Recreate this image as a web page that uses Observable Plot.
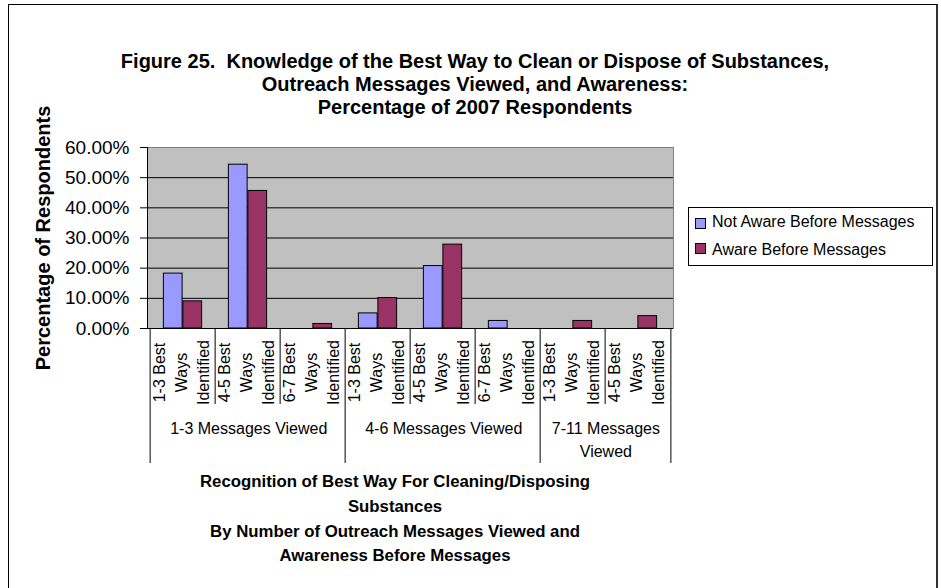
<!DOCTYPE html>
<html>
<head>
<meta charset="utf-8">
<script src="https://cdn.jsdelivr.net/npm/d3@7"></script>
<script src="https://cdn.jsdelivr.net/npm/@observablehq/plot@0.6"></script>
<style>
  html, body { margin: 0; padding: 0; background: #fff; }
  body { width: 941px; height: 588px; overflow: hidden; position: relative;
         font-family: "Liberation Sans", Arial, sans-serif; color: #000; }
  #frame { position: absolute; left: 8px; top: 4px; width: 930px; height: 640px;
           border: 1px solid #000; border-right: 2px solid #333; box-sizing: border-box; }
  #title { position: absolute; left: 0; top: 50px; width: 950px; text-align: center;
           font-weight: bold; font-size: 20px; line-height: 23px; }
  #chart { position: absolute; left: 0; top: 100px; }
  #legend { position: absolute; left: 688px; top: 207px; width: 245px; height: 59px;
            border: 1px solid #000; box-sizing: border-box; background: #fff; font-size: 16px; }
  #legend .sw { position: absolute; left: 6px; width: 11px; height: 11px;
                border: 1px solid #000; box-sizing: border-box; }
  #legend .lbl { position: absolute; left: 23px; line-height: 16px; white-space: nowrap; }
  #xtitle { position: absolute; left: 195px; width: 400px; top: 470px; text-align: center;
            font-weight: bold; font-size: 16.8px; line-height: 24.8px; }
</style>
</head>
<body>
<div id="frame"></div>
<div id="title"></div>
<div id="chart"></div>
<div id="legend"></div>
<div id="xtitle"></div>
<script>
// ---- data ----
const titleLines = [
  "Figure 25.  Knowledge of the Best Way to Clean or Dispose of Substances,",
  "Outreach Messages Viewed, and Awareness:",
  "Percentage of 2007 Respondents"
];
const groups = ["1-3 Messages Viewed", "4-6 Messages Viewed", "7-11 Messages Viewed"];
const bestWays = [
  "1-3 Best Ways Identified", "4-5 Best Ways Identified", "6-7 Best Ways Identified",
  "1-3 Best Ways Identified", "4-5 Best Ways Identified", "6-7 Best Ways Identified",
  "1-3 Best Ways Identified", "4-5 Best Ways Identified"
];
const categoryGroup = [0, 0, 0, 1, 1, 1, 2, 2];
const series = ["Not Aware Before Messages", "Aware Before Messages"];
const seriesColors = ["#9999ff", "#993366"];
const notAware = [18.2, 54.3, 0, 5.0, 20.7, 2.5, 0, 0];
const aware = [9.0, 45.6, 1.5, 10.1, 27.8, 0, 2.5, 4.1];
const yTicks = [0, 10, 20, 30, 40, 50, 60];
const yTitle = "Percentage of Respondents";
const xTitleLines = [
  "Recognition of Best Way For Cleaning/Disposing",
  "Substances",
  "By Number of Outreach Messages Viewed and",
  "Awareness Before Messages"
];

// ---- build ----
document.getElementById("title").innerHTML = titleLines.map(t => `<div>${t.replace(/  /g, " &nbsp;")}</div>`).join("");
document.getElementById("xtitle").innerHTML = xTitleLines.map(t => `<div>${t}</div>`).join("");

const legend = document.getElementById("legend");
const legendTops = [5.8, 33.5];
const swatchTops = [10, 35];
series.forEach((s, k) => {
  const sw = document.createElement("div");
  sw.className = "sw"; sw.style.top = swatchTops[k] + "px"; sw.style.background = seriesColors[k];
  legend.appendChild(sw);
  const lb = document.createElement("div");
  lb.className = "lbl"; lb.style.top = legendTops[k] + "px"; lb.textContent = s;
  legend.appendChild(lb);
});

const rows = bestWays.map((label, i) => ({i, label, group: categoryGroup[i], notAware: notAware[i], aware: aware[i]}));
const groupInfo = groups.map((g, gi) => {
  const members = rows.filter(r => r.group === gi);
  return {label: g, first: members[0].i, n: members.length};
});
const groupStarts = rows.filter((r, i) => i === 0 || r.group !== rows[i - 1].group);
const innerStarts = rows.filter(r => !groupStarts.includes(r));
const lastRow = [rows[rows.length - 1]];

const W = 941, H = 370;
const mL = 147, mR = 268, mT = 47, mB = 142;
const plotW = W - mL - mR;
const plotH = H - mT - mB;
const bw = plotW / rows.length;
const barW = 19.5;
const shortSep = 76, longSep = 135;

const marks = [
  Plot.frame({fill: "#c0c0c0", stroke: "none"}),
  Plot.ruleY(yTicks.filter(t => t > 0 && t < yTicks[yTicks.length - 1]), {stroke: "#000"}),
  Plot.frame({anchor: "top", stroke: "#808080"}),
  Plot.frame({anchor: "right", stroke: "#808080"}),
  Plot.barY(rows.filter(r => r.notAware > 0), {
    x: "i", y: "notAware", fill: seriesColors[0], stroke: "#000", strokeWidth: 1,
    insetLeft: bw / 2 - barW, insetRight: bw / 2
  }),
  Plot.barY(rows.filter(r => r.aware > 0), {
    x: "i", y: "aware", fill: seriesColors[1], stroke: "#000", strokeWidth: 1,
    insetLeft: bw / 2, insetRight: bw / 2 - barW
  }),
  Plot.frame({anchor: "left", stroke: "#000"}),
  Plot.ruleY([0], {stroke: "#000"}),
  Plot.axisY(yTicks, {
    tickFormat: d => d.toFixed(2) + "%", tickSize: 7, tickPadding: 11,
    fontSize: 19, label: null, stroke: "#000"
  }),
  // category separators below the axis
  Plot.ruleX(innerStarts, {x: "i", dx: -bw / 2, insetTop: plotH, insetBottom: -shortSep, stroke: "#000"}),
  Plot.ruleX(groupStarts, {x: "i", dx: -bw / 2, insetTop: plotH, insetBottom: -longSep, stroke: "#000"}),
  Plot.ruleX(lastRow, {x: "i", dx: bw / 2, insetTop: plotH, insetBottom: -longSep, stroke: "#000"}),
  // category labels
  Plot.text(rows, {
    x: "i", text: "label", rotate: -90, frameAnchor: "bottom", dx: -3, dy: 44,
    textAnchor: "middle", lineAnchor: "middle",
    lineWidth: 5, lineHeight: 1.35, fontSize: 16
  }),
  // group labels
  ...groupInfo.map(g => Plot.text([g], {
    x: "first", text: "label", dx: (g.n - 1) * bw / 2, frameAnchor: "bottom", dy: 89,
    textAnchor: "middle", lineAnchor: "top", lineWidth: (g.n * bw - 12) / 16, lineHeight: 1.45, fontSize: 16
  })),
  // y title
  Plot.text([yTitle], {
    text: d => d, frameAnchor: "left", dx: -104, rotate: -90,
    textAnchor: "middle", lineAnchor: "middle",
    fontWeight: "bold", fontSize: 20
  })
];

const chart = Plot.plot({
  width: W, height: H,
  marginLeft: mL, marginRight: mR, marginTop: mT, marginBottom: mB,
  x: {type: "band", domain: rows.map(r => r.i), padding: 0, axis: null},
  y: {domain: [yTicks[0], yTicks[yTicks.length - 1]]},
  style: {fontFamily: "'Liberation Sans', Arial, sans-serif", fontSize: "16px", color: "#000", background: "transparent", overflow: "visible"},
  marks
});
document.getElementById("chart").appendChild(chart);
</script>
</body>
</html>
